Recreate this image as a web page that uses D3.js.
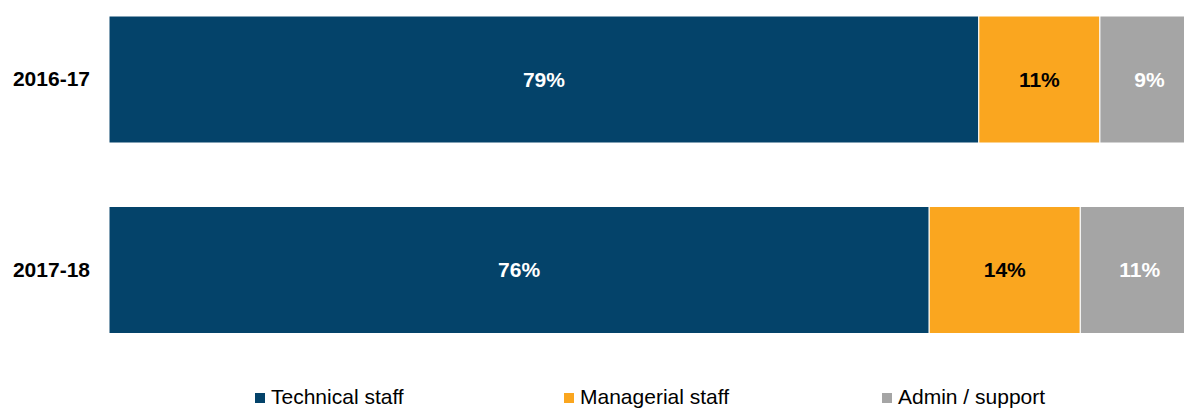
<!DOCTYPE html>
<html>
<head>
<meta charset="utf-8">
<script src="https://cdn.jsdelivr.net/npm/d3@7"></script>
<style>
  html, body { margin: 0; padding: 0; background: #fff; }
  svg { display: block; font-family: Arial, "Liberation Sans", sans-serif; }
</style>
</head>
<body>
<svg id="chart" width="1184" height="408"></svg>
<script>
// Staff mix by year (percent of total)
const years = ["2016-17", "2017-18"];
const seriesNames = ["Technical staff", "Managerial staff", "Admin / support"];
const technical = [79, 76];
const managerial = [11, 14];
const admin = [9, 11];
const colors = ["#04436A", "#FAA61F", "#A5A5A5"];
const labelColors = ["#ffffff", "#000000", "#ffffff"];

const svg = d3.select("#chart");

const rows = years.map((y, i) => ({
  year: y,
  values: [technical[i], managerial[i], admin[i]]
}));

// Each row is shown as a 100% bar: the stacked values are scaled by their row total
const xRange = [109, 1199];
const yScale = d3.scaleBand()
  .domain(years)
  .range([-15.75, 365.25])
  .paddingInner(1 / 3)
  .paddingOuter(1 / 6);

const stack = d3.stack().keys(d3.range(seriesNames.length)).value((d, k) => d.values[k]);
const layers = stack(rows);
const xFor = d => d3.scaleLinear().domain([0, d3.sum(d.data.values)]).range(xRange);

const plot = svg.append("g");

layers.forEach((layer, k) => {
  const g = plot.append("g");
  g.selectAll("rect")
    .data(layer)
    .join("rect")
    .attr("x", d => xFor(d)(d[0]))
    .attr("y", d => yScale(d.data.year))
    .attr("width", d => xFor(d)(d[1]) - xFor(d)(d[0]))
    .attr("height", yScale.bandwidth())
    .attr("fill", colors[k])
    .attr("stroke", "#ffffff")
    .attr("stroke-width", 1);

  g.selectAll("text")
    .data(layer)
    .join("text")
    .attr("x", d => (xFor(d)(d[0]) + xFor(d)(d[1])) / 2)
    .attr("y", d => yScale(d.data.year) + yScale.bandwidth() / 2)
    .attr("dy", "0.35em")
    .attr("text-anchor", "middle")
    .attr("font-size", 21)
    .attr("font-weight", "bold")
    .attr("fill", labelColors[k])
    .text(d => d.data.values[k] + "%");
});

// Category axis on the left
const yAxis = d3.axisLeft(yScale).tickSize(0).tickPadding(19);
const axisG = svg.append("g").attr("transform", "translate(109,0)").call(yAxis);
axisG.select(".domain").remove();
axisG.selectAll("text")
  .attr("font-size", 21)
  .attr("font-weight", "bold")
  .attr("fill", "#000")
  .attr("font-family", "Arial, 'Liberation Sans', sans-serif");

// Legend
const legendX = [255, 564, 882];
const legend = svg.append("g");
const items = legend.selectAll("g")
  .data(seriesNames)
  .join("g")
  .attr("transform", (d, i) => `translate(${legendX[i]},393)`);
items.append("rect")
  .attr("width", 10).attr("height", 10)
  .attr("fill", (d, i) => colors[i]);
items.append("text")
  .attr("x", 16)
  .attr("y", 11)
  .attr("font-size", 21)
  .attr("fill", "#000")
  .text(d => d);
</script>
</body>
</html>
